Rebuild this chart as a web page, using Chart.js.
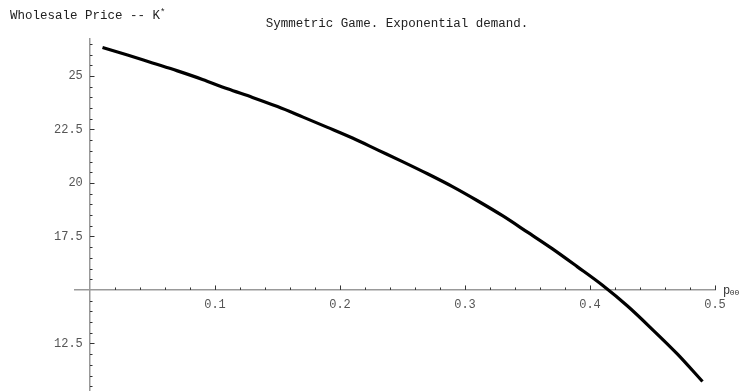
<!DOCTYPE html>
<html><head><meta charset="utf-8">
<script src="https://cdn.jsdelivr.net/npm/chart.js@4/dist/chart.umd.min.js"></script>
<style>html,body{margin:0;padding:0;background:#fff;overflow:hidden}#wrap{width:756px;height:391px;position:relative}</style>
</head><body><div id="wrap"><canvas id="c" width="756" height="391"></canvas></div>
<script>
// ---- data ----
const pValues = [0.01,0.03,0.05,0.07,0.09,0.11,0.13,0.15,0.17,0.19,0.21,0.23,0.25,0.27,0.29,0.31,0.33,0.35,0.37,0.39,0.41,0.43,0.45,0.47,0.49];
const kValues = [26.33,25.98,25.61,25.24,24.84,24.40,24.00,23.57,23.09,22.60,22.10,21.55,21.00,20.43,19.83,19.17,18.47,17.70,16.92,16.08,15.22,14.25,13.15,12.00,10.72];
const xTickValues = [0.1,0.2,0.3,0.4,0.5];
const xTickLabels = ['0.1','0.2','0.3','0.4','0.5'];
const yTickValues = [12.5,17.5,20,22.5,25];
const yTickLabels = ['12.5','17.5','20','22.5','25'];
const xMinorTicks = [0.02,0.04,0.06,0.08,0.12,0.14,0.16,0.18,0.22,0.24,0.26,0.28,0.32,0.34,0.36,0.38,0.42,0.44,0.46,0.48];
const yMinorTicks = [10.5,11,11.5,12,13,13.5,14,14.5,15.5,16,16.5,17,18,18.5,19,19.5,20.5,21,21.5,22,23,23.5,24,24.5,25.5,26,26.5];
const titleText = 'Symmetric Game. Exponential demand.';
const yAxisLabel = 'Wholesale Price -- K';
const xAxisLabel = 'p';

const FONT = "'Liberation Mono', 'DejaVu Sans Mono', monospace";

const tickPlugin = {
  id: 'tickMarks',
  beforeDatasetsDraw(chart) {
    const ctx = chart.ctx, xs = chart.scales.x, ys = chart.scales.y;
    const y0 = ys.getPixelForValue(15), x0 = xs.getPixelForValue(0);
    ctx.save();
    ctx.strokeStyle = '#333';
    ctx.lineWidth = 1;
    ctx.beginPath();
    xMinorTicks.forEach(v => { const px = Math.round(xs.getPixelForValue(v)) + 0.5; ctx.moveTo(px, y0); ctx.lineTo(px, y0 - 2.5); });
    xTickValues.forEach(v => { const px = Math.round(xs.getPixelForValue(v)) + 0.5; ctx.moveTo(px, y0); ctx.lineTo(px, y0 - 4.5); });
    yMinorTicks.forEach(v => { const py = Math.round(ys.getPixelForValue(v)) + 0.5; ctx.moveTo(x0, py); ctx.lineTo(x0 + 2.5, py); });
    yTickValues.forEach(v => { const py = Math.round(ys.getPixelForValue(v)) + 0.5; ctx.moveTo(x0, py); ctx.lineTo(x0 + 4.5, py); });
    ctx.stroke();
    ctx.restore();
  },
  afterDraw(chart) {
    const ctx = chart.ctx, ys = chart.scales.y;
    ctx.save();
    ctx.fillStyle = '#222';
    ctx.textBaseline = 'middle';
    ctx.font = '12.5px ' + FONT;
    ctx.textAlign = 'left';
    ctx.fillText(yAxisLabel, 10, 16);
    const w = ctx.measureText(yAxisLabel).width;
    ctx.font = '9px ' + FONT;
    ctx.fillText('*', 10 + w, 13);
    ctx.font = '12.5px ' + FONT;
    ctx.textAlign = 'center';
    ctx.fillText(titleText, 397, 24);
    const y0 = ys.getPixelForValue(15);
    ctx.textAlign = 'left';
    ctx.fillStyle = '#333';
    ctx.font = '12px ' + FONT;
    ctx.fillText(xAxisLabel, 723, y0 + 0.5);
    const pw = ctx.measureText(xAxisLabel).width;
    ctx.font = '8px ' + FONT;
    ctx.fillText('00', 723 + pw - 0.5, y0 + 2.5);
    ctx.restore();
  }
};

new Chart(document.getElementById('c'), {
  type: 'line',
  data: {
    datasets: [{
      data: pValues.map((p, i) => ({x: p, y: kValues[i]})),
      borderColor: '#000',
      borderWidth: 3.2,
      pointRadius: 0,
      fill: false,
      cubicInterpolationMode: 'monotone'
    }]
  },
  options: {
    responsive: false,
    animation: false,
    devicePixelRatio: 1,
    layout: {padding: {left: 75, right: 41, top: 39, bottom: 0}},
    plugins: {legend: {display: false}, tooltip: {enabled: false}, title: {display: false}},
    scales: {
      x: {
        type: 'linear', min: -0.012, max: 0.5,
        position: {y: 15},
        afterBuildTicks: s => { s.ticks = xTickValues.map(v => ({value: v})); },
        grid: {display: false, drawTicks: false},
        border: {display: true, color: '#999', width: 1.5},
        ticks: {
          padding: 8, color: '#555', maxRotation: 0, autoSkip: false,
          font: {family: FONT, size: 12},
          callback: v => { const i = xTickValues.findIndex(t => Math.abs(t - v) < 1e-9); return i >= 0 ? xTickLabels[i] : ''; }
        }
      },
      y: {
        type: 'linear', min: 10.28, max: 26.73,
        position: {x: 0},
        afterBuildTicks: s => { s.ticks = yTickValues.map(v => ({value: v})); },
        grid: {display: false, drawTicks: false},
        border: {display: true, color: '#999', width: 1.5},
        ticks: {
          padding: 0, color: '#555', autoSkip: false,
          font: {family: FONT, size: 12, lineHeight: 0.01},
          callback: v => { const i = yTickValues.findIndex(t => Math.abs(t - v) < 1e-9); return i >= 0 ? yTickLabels[i] + ' ' : ''; }
        }
      }
    }
  },
  plugins: [tickPlugin]
});
</script>
</body></html>
